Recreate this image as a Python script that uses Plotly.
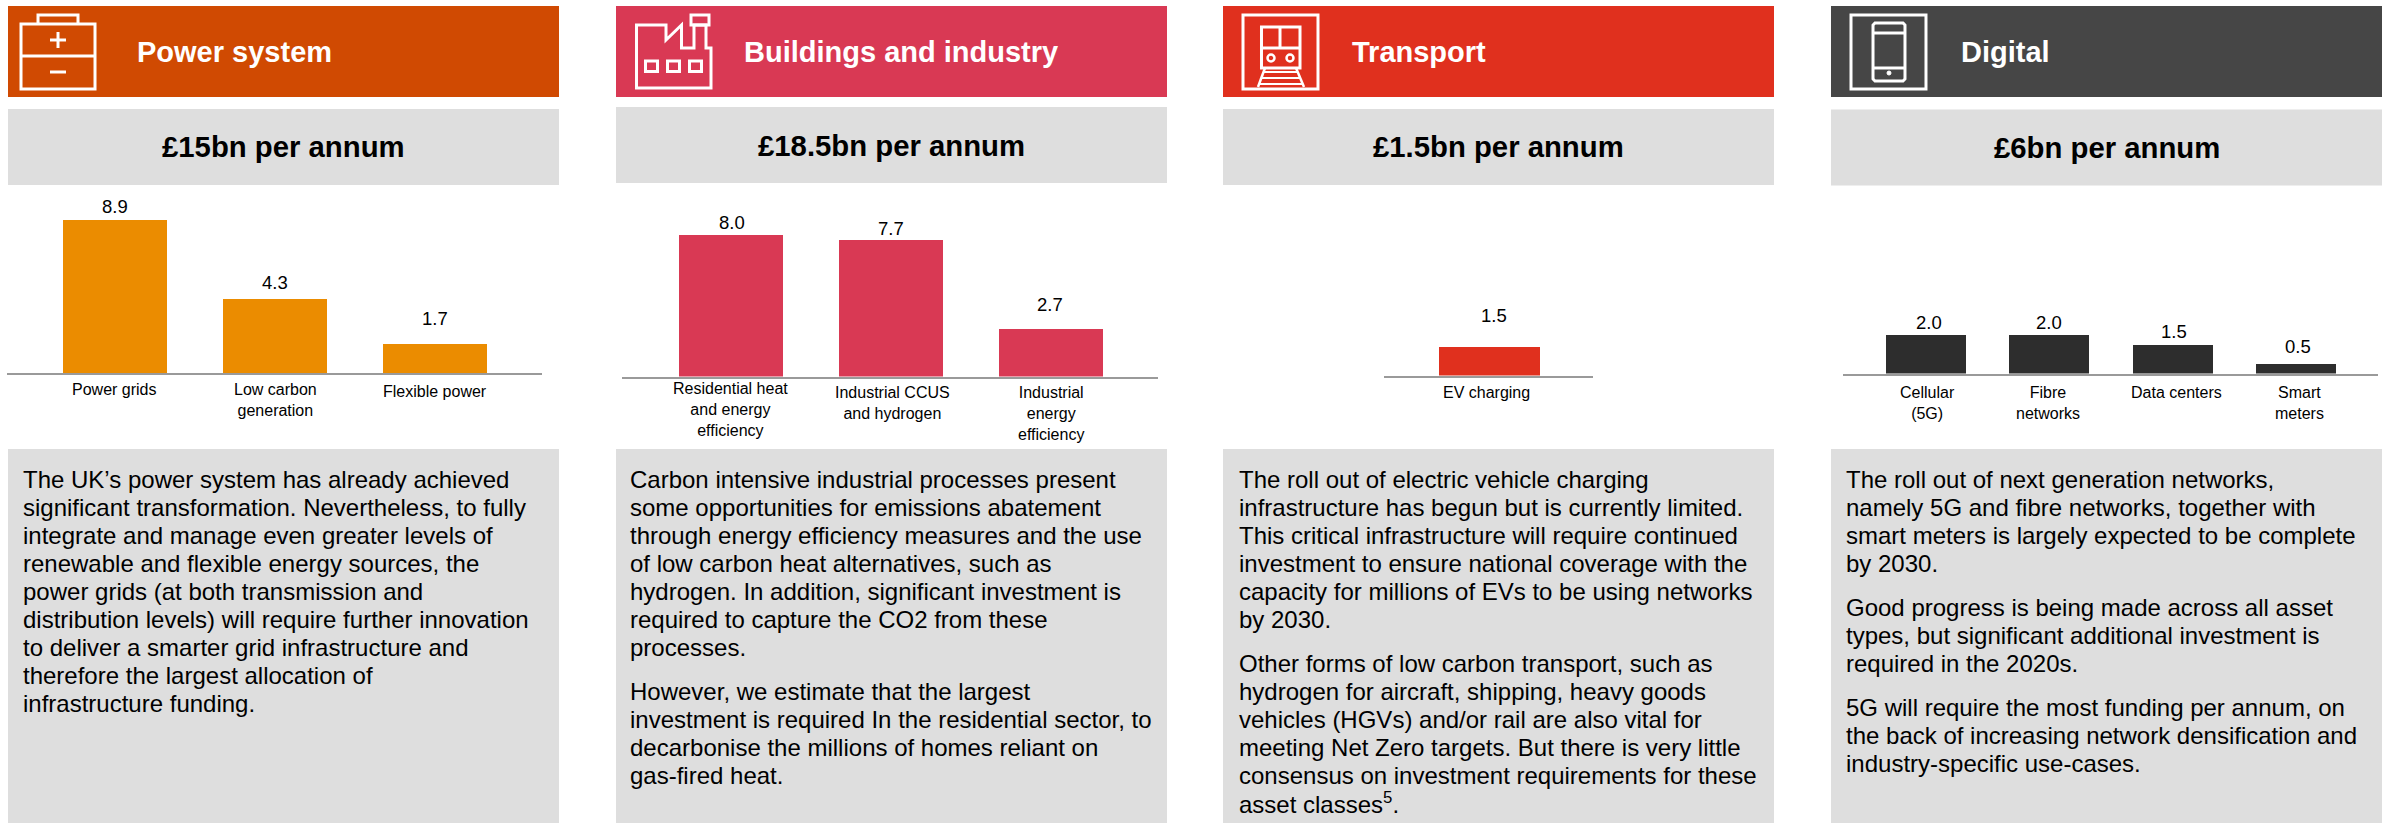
import plotly.graph_objects as go

W, H = 2392, 823
FONT = "Liberation Sans, Arial, sans-serif"

# ---------- data ----------
power_categories = ["Power grids", "Low carbon<br>generation", "Flexible power"]
power_values = [8.9, 4.3, 1.7]
buildings_categories = ["Residential heat<br>and energy<br>efficiency", "Industrial CCUS<br>and hydrogen", "Industrial<br>energy<br>efficiency"]
buildings_values = [8.0, 7.7, 2.7]
transport_categories = ["EV charging"]
transport_values = [1.5]
digital_categories = ["Cellular<br>(5G)", "Fibre<br>networks", "Data centers", "Smart<br>meters"]
digital_values = [2.0, 2.0, 1.5, 0.5]

titles = ["Power system", "Buildings and industry", "Transport", "Digital"]
totals = ["£15bn per annum", "£18.5bn per annum", "£1.5bn per annum", "£6bn per annum"]

power_text = [
    ["The UK’s power system has already achieved", "significant transformation. Nevertheless, to fully",
     "integrate and manage even greater levels of", "renewable and flexible energy sources, the",
     "power grids (at both transmission and", "distribution levels) will require further innovation",
     "to deliver a smarter grid infrastructure and", "therefore the largest allocation of", "infrastructure funding."],
]
buildings_text = [
    ["Carbon intensive industrial processes present", "some opportunities for emissions abatement",
     "through energy efficiency measures and the use", "of low carbon heat alternatives, such as",
     "hydrogen. In addition, significant investment is", "required to capture the CO2 from these", "processes."],
    ["However, we estimate that the largest", "investment is required In the residential sector, to",
     "decarbonise the millions of homes reliant on", "gas-fired heat."],
]
transport_text = [
    ["The roll out of electric vehicle charging", "infrastructure has begun but is currently limited.",
     "This critical infrastructure will require continued", "investment to ensure national coverage with the",
     "capacity for millions of EVs to be using networks", "by 2030."],
    ["Other forms of low carbon transport, such as", "hydrogen for aircraft, shipping, heavy goods",
     "vehicles (HGVs) and/or rail are also vital for", "meeting Net Zero targets. But there is very little",
     "consensus on investment requirements for these", "asset classes<sup>5</sup>."],
]
digital_text = [
    ["The roll out of next generation networks,", "namely 5G and fibre networks, together with",
     "smart meters is largely expected to be complete", "by 2030."],
    ["Good progress is being made across all asset", "types, but significant additional investment is",
     "required in the 2020s."],
    ["5G will require the most funding per annum, on", "the back of increasing network densification and",
     "industry-specific use-cases."],
]

# ---------- layout / style (pixels) ----------
panels = [
    dict(cats=power_categories, vals=power_values, text=power_text, title=titles[0], total=totals[0],
         head="#D04A02", bar="#EB8C00", x0=8, x1=559, gray=(109, 185), axis=(7, 542), first=114.5, step=160,
         base=373, scale=17.2, title_x=135, text_x=20.5,
         vgap=[1, 4, 13], vdx=[0, 0, 0], ldy=[6, 6, 8], ldx=[-1, 1, 0]),
    dict(cats=buildings_categories, vals=buildings_values, text=buildings_text, title=titles[1], total=totals[1],
         head="#D93954", bar="#D93954", x0=616, x1=1167, gray=(107, 183), axis=(622, 1158), first=730.5, step=160,
         base=376.5, scale=17.7, title_x=742, text_x=627.5,
         vgap=[0, -1, 12], vdx=[1, 0, -1], ldy=[1.5, 5.5, 5.5], ldx=[0, 2, 0]),
    dict(cats=transport_categories, vals=transport_values, text=transport_text, title=titles[2], total=totals[2],
         head="#E0301E", bar="#E0301E", x0=1223, x1=1774, gray=(109, 185), axis=(1384, 1593), first=1489, step=160,
         base=375.5, scale=19.3, title_x=1350, text_x=1236.5,
         vgap=[19], vdx=[5], ldy=[6.5], ldx=[-2]),
    dict(cats=digital_categories, vals=digital_values, text=digital_text, title=titles[3], total=totals[3],
         head="#464646", bar="#2D2D2D", x0=1831, x1=2382, gray=(109.5, 185.5), axis=(1843, 2378), first=1925.5, step=123.5,
         base=373.5, scale=19.3, title_x=1958.5, text_x=1843.5,
         vgap=[0, -0.5, 1, 5], vdx=[3, 0, 1, 2], ldy=[8, 8, 8, 8], ldx=[2, -1, 4, 3]),
]

BAR_W = {0: 104, 1: 104, 2: 101, 3: 80}
GRAY_BG = "#DEDEDE"
TEXT_TOP, TEXT_BOTTOM = 449, 823
HEAD_TOP, HEAD_BOTTOM = 6, 97
LINE_H, PARA_GAP = 28, 16
FIRST_LINE_Y = 479


def px(x):
    return x / W


def py(y):
    return 1 - y / H


def rect(x0, y0, x1, y1, fill=None, line=None, lw=2, layer="below"):
    d = dict(type="rect", xref="paper", yref="paper", x0=px(x0), x1=px(x1), y0=py(y0), y1=py(y1),
             layer=layer, line=dict(width=lw if line else 0, color=line or "rgba(0,0,0,0)"))
    if fill:
        d["fillcolor"] = fill
    return d


def path(points, lw=3, close=True):
    s = "M " + " L ".join(f"{px(x):.5f},{py(y):.5f}" for x, y in points) + (" Z" if close else "")
    return dict(type="path", xref="paper", yref="paper", path=s, layer="above", line=dict(color="white", width=lw))


def circle(cx, cy, r, fill=None, lw=2.5):
    d = dict(type="circle", xref="paper", yref="paper", x0=px(cx - r), x1=px(cx + r), y0=py(cy + r), y1=py(cy - r),
             layer="above", line=dict(color="white", width=lw))
    if fill:
        d["fillcolor"] = fill
    return d


def wline(x0, y0, x1, y1, lw=3):
    return path([(x0, y0), (x1, y1)], lw=lw, close=False)


fig = go.Figure()
shapes, annotations = [], []

for i, p in enumerate(panels):
    n = str(i + 1) if i else ""
    xa, ya = "xaxis" + n, "yaxis" + n
    top_px = 200
    fig.add_trace(go.Bar(x=p["cats"], y=p["vals"], marker=dict(color=p["bar"], line=dict(width=0)),
                         width=BAR_W[i] / p["step"], xaxis="x" + n, yaxis="y" + n,
                         showlegend=False, hoverinfo="x+y"))
    ax0, ax1 = p["axis"]
    fig.update_layout(**{
        xa: dict(domain=[px(ax0), px(ax1)], type="category", categoryorder="array", categoryarray=p["cats"],
                 range=[-(p["first"] - ax0) / p["step"], (ax1 - p["first"]) / p["step"]],
                 showline=True, linecolor="#9A9A9A", linewidth=1.5, showgrid=False, zeroline=False,
                 showticklabels=False, ticks="", fixedrange=True, anchor="y" + n),
        ya: dict(domain=[py(p["base"]), py(top_px)], range=[0, (p["base"] - top_px) / p["scale"]],
                 visible=False, showgrid=False, zeroline=False, fixedrange=True, anchor="x" + n),
    })

    # panels
    shapes.append(rect(p["x0"], HEAD_TOP, p["x1"], HEAD_BOTTOM, fill=p["head"]))
    shapes.append(rect(p["x0"], p["gray"][0], p["x1"], p["gray"][1], fill=GRAY_BG))
    shapes.append(rect(p["x0"], TEXT_TOP, p["x1"], TEXT_BOTTOM, fill=GRAY_BG))

    annotations.append(dict(xref="paper", yref="paper", x=px(p["title_x"]), y=py((HEAD_TOP + HEAD_BOTTOM) / 2),
                            text=f"<b>{p['title']}</b>", showarrow=False, xanchor="left", yanchor="middle",
                            font=dict(family=FONT, size=29, color="white")))
    annotations.append(dict(xref="paper", yref="paper", x=px((p["x0"] + p["x1"]) / 2), y=py(sum(p["gray"]) / 2),
                            text=f"<b>{p['total']}</b>", showarrow=False, xanchor="center", yanchor="middle",
                            font=dict(family=FONT, size=29.3, color="black")))

    # value and category labels
    for j, (c, v) in enumerate(zip(p["cats"], p["vals"])):
        annotations.append(dict(xref="x" + n, yref="y" + n, x=c, y=v, text=f"{v:.1f}", showarrow=False,
                                xanchor="center", yanchor="bottom", xshift=p["vdx"][j], yshift=p["vgap"][j],
                                font=dict(family=FONT, size=18.5, color="black")))
        annotations.append(dict(xref="x" + n, yref="y" + n, x=c, y=0, text=c, showarrow=False,
                                xanchor="center", yanchor="top", xshift=p["ldx"][j], yshift=-p["ldy"][j],
                                align="center", font=dict(family=FONT, size=16, color="black")))

    # body text, one annotation per line so the leading matches
    y = FIRST_LINE_Y
    for para in p["text"]:
        for line in para:
            annotations.append(dict(xref="paper", yref="paper", x=px(p["text_x"]), y=py(y), text=line,
                                    showarrow=False, xanchor="left", yanchor="middle", align="left",
                                    font=dict(family=FONT, size=24, color="black")))
            y += LINE_H
        y += PARA_GAP

# ---------- icons ----------
# battery
shapes += [
    path([(21, 24), (21, 89), (95, 89), (95, 24)]),
    wline(21, 56, 95, 56),
    path([(38, 24), (38, 15), (78, 15), (78, 24)], close=False),
    wline(50, 40, 66, 40, lw=3), wline(58, 32, 58, 48, lw=3),
    wline(50, 72, 66, 72, lw=3),
]
# factory
shapes += [
    path([(636.5, 88), (636.5, 25), (666, 25), (666, 40), (681.5, 25), (681.5, 48), (694, 48), (694, 25),
          (706, 25), (706, 48), (711, 48), (711, 88)]),
    rect(691, 15, 709, 25, line="white", lw=3, layer="above"),
    rect(645.5, 61, 657.5, 71.5, line="white", lw=3, layer="above"),
    rect(667.5, 61, 679.5, 71.5, line="white", lw=3, layer="above"),
    rect(689.5, 61, 701.5, 71.5, line="white", lw=3, layer="above"),
]
# train
shapes += [
    path([(1243, 15), (1318, 15), (1318, 89), (1243, 89)]),
    path([(1261.5, 27), (1300, 27), (1300, 68), (1261.5, 68)]),
    wline(1261.5, 48, 1300, 48), wline(1280, 27, 1280, 48),
    circle(1271, 58, 3.5), circle(1290, 58, 3.5),
    wline(1265, 68, 1258, 87, lw=2.5), wline(1296, 68, 1304, 87, lw=2.5),
    wline(1264, 72, 1298, 72, lw=2), wline(1262, 78, 1300, 78, lw=2), wline(1260, 84, 1302, 84, lw=2),
]
# phone
shapes += [
    path([(1851, 15), (1926, 15), (1926, 89), (1851, 89)]),
    path([(1875, 23), (1903, 23), (1905, 25), (1905, 79), (1903, 81), (1875, 81), (1873, 79), (1873, 25)]),
    wline(1873, 33, 1905, 33), wline(1873, 68, 1905, 68),
    circle(1889, 73, 2, fill="white", lw=1),
]

fig.update_layout(
    width=W, height=H, margin=dict(l=0, r=0, t=0, b=0), autosize=False,
    paper_bgcolor="white", plot_bgcolor="rgba(0,0,0,0)", showlegend=False,
    bargap=0, shapes=shapes, annotations=annotations,
    font=dict(family=FONT),
)

fig.write_html("out.html", config=dict(displayModeBar=False),
               post_script="document.body.style.margin='0';document.body.style.overflow='hidden';")
